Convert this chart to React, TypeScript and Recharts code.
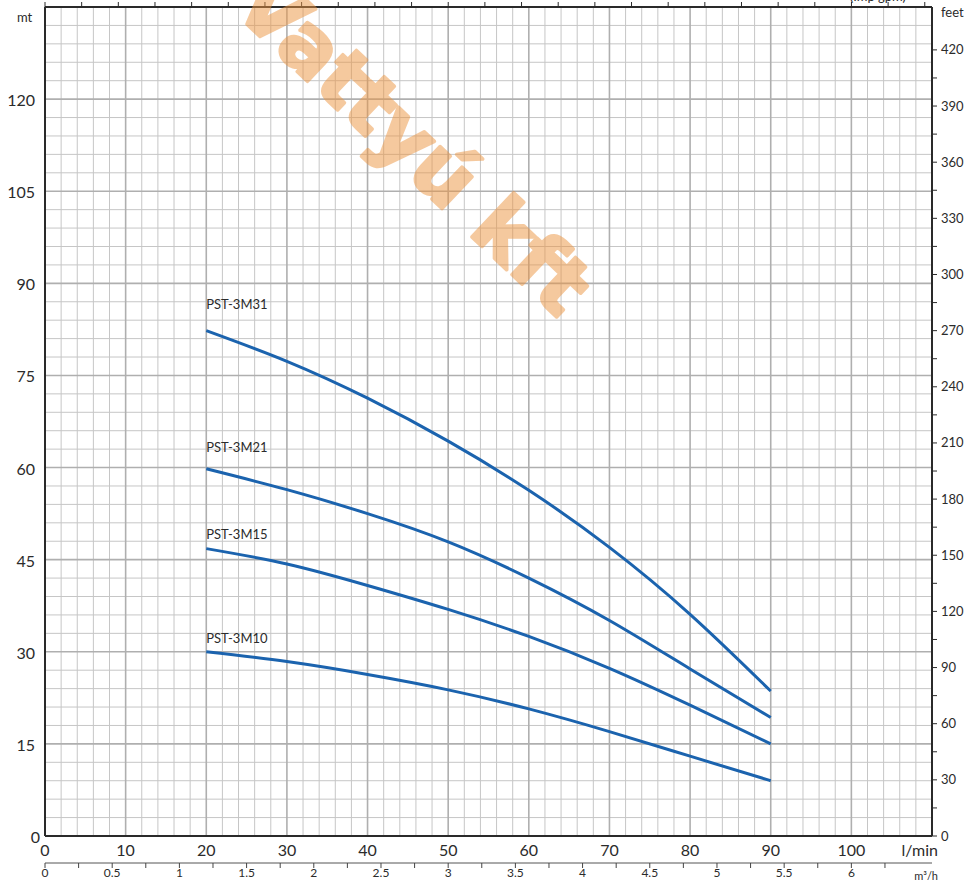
import React from 'react';
import { LineChart, Line, XAxis, YAxis, CartesianGrid, ReferenceDot } from 'recharts';

// ---- data ----
const flowLmin = [20, 30, 40, 50, 60, 70, 80, 90];
const head3M31 = [82.3, 77.3, 71.3, 64.3, 56.3, 47.0, 36.1, 23.6];
const head3M21 = [59.8, 56.4, 52.5, 47.9, 42.0, 35.1, 27.2, 19.3];
const head3M15 = [46.8, 44.3, 40.8, 36.9, 32.5, 27.3, 21.3, 15.0];
const head3M10 = [30.0, 28.4, 26.3, 23.8, 20.7, 17.0, 13.0, 9.0];
const seriesNames = ['PST-3M31', 'PST-3M21', 'PST-3M15', 'PST-3M10'];
const seriesKeys = ['m31', 'm21', 'm15', 'm10'];
const labelAnchorFlow = 20;
const labelAnchorHead = [85.8, 62.6, 48.4, 31.5];

// ---- axes (secondary scales are expressed in the primary units) ----
const FLOW_MAX = 110; // l/min
const HEAD_MAX = 135; // mt
const M_PER_FT = 0.3048;
const LMIN_PER_M3H = 1000 / 60;
const LMIN_PER_GPM = 4.546;

const lminTicks = [0, 10, 20, 30, 40, 50, 60, 70, 80, 90, 100];
const mtTicks = [0, 15, 30, 45, 60, 75, 90, 105, 120];
const feetTicks: number[] = [];
for (let v = 0; v <= 420; v += 15) feetTicks.push(v);
const m3hTicks: number[] = [];
for (let v = 0; v <= 6.25; v += 0.25) m3hTicks.push(Math.round(v * 100) / 100);
const gpmTicks: number[] = [];
for (let v = 0; v <= 24; v += 1) gpmTicks.push(v);

const feetTickPos = feetTicks.map((f) => f * M_PER_FT);
const m3hTickPos = m3hTicks.map((v) => v * LMIN_PER_M3H);
const gpmTickPos = gpmTicks.map((g) => g * LMIN_PER_GPM);

const gridMinorX: number[] = [];
for (let v = 2; v < FLOW_MAX; v += 2) if (v % 10 !== 0) gridMinorX.push(v);
const gridMajorX: number[] = [];
for (let v = 10; v < FLOW_MAX; v += 10) gridMajorX.push(v);
const gridMinorY: number[] = [];
for (let v = 3; v < HEAD_MAX; v += 3) if (v % 15 !== 0) gridMinorY.push(v);
const gridMajorY: number[] = [];
for (let v = 15; v < HEAD_MAX; v += 15) gridMajorY.push(v);

const tableData = flowLmin.map((q, i) => ({
  q,
  m31: head3M31[i],
  m21: head3M21[i],
  m15: head3M15[i],
  m10: head3M10[i],
}));

const FONT = 'Lato, "DejaVu Sans", sans-serif';
const TXT = '#2b2b2b';
const CURVE = '#1b63ae';
const AXIS = '#2a2a2a';

const LeftTick = (p: any) => {
  const v = p.payload.value;
  return (
    <text x={v === 0 ? p.x + 5 : p.x} y={p.y + 7} textAnchor="end" fontSize={16} fill={TXT} fontFamily={FONT}>
      {v}
    </text>
  );
};
const RightTick = (p: any) => {
  const ft = Math.round(p.payload.value / M_PER_FT);
  if (ft % 30 !== 0) return <g />;
  return (
    <text x={p.x} y={p.y + 4.5} textAnchor="start" fontSize={13} fill={TXT} fontFamily={FONT}>
      {ft}
    </text>
  );
};
const BottomTick = (p: any) => (
  <text x={p.x} y={p.y + 12} textAnchor="middle" fontSize={16} fill={TXT} fontFamily={FONT}>
    {p.payload.value}
  </text>
);
const M3hTick = (p: any) => {
  const v = Math.round((p.payload.value / LMIN_PER_M3H) * 4) / 4;
  if (Math.abs(v * 2 - Math.round(v * 2)) > 1e-6) return <g />;
  return (
    <text x={p.x} y={p.y + 8.5} textAnchor="middle" fontSize={12} fill={TXT} fontFamily={FONT}>
      {v}
    </text>
  );
};
const EmptyTick = () => <g />;

export default function App() {
  return (
    <div style={{ position: 'absolute', left: 0, top: 0, width: 977, height: 881, background: '#fff', fontFamily: FONT }}>
      <LineChart width={977} height={881} data={tableData} margin={{ top: 0, right: 0, bottom: 0, left: 0 }}>
        <CartesianGrid
          xAxisId="lmin"
          yAxisId="mt"
          verticalValues={gridMinorX}
          horizontalValues={gridMinorY}
          syncWithTicks
          stroke="#c6c6c6"
          strokeWidth={1}
        />
        <CartesianGrid
          xAxisId="lmin"
          yAxisId="mt"
          verticalValues={gridMajorX}
          horizontalValues={gridMajorY}
          syncWithTicks
          stroke="#afafaf"
          strokeWidth={1.6}
        />

        {/* bottom l/min axis */}
        <XAxis
          xAxisId="lmin"
          orientation="bottom"
          type="number"
          dataKey="q"
          domain={[0, FLOW_MAX]}
          allowDataOverflow
          ticks={lminTicks}
          interval={0}
          height={27}
          tickSize={0}
          tickMargin={8}
          tick={BottomTick}
          tickLine={false}
          axisLine={{ stroke: AXIS, strokeWidth: 2 }}
          label={(p: any) => {
            const vb = p.viewBox || {};
            return (
              <text x={(vb.x || 0) + (vb.width || 0) + 6} y={(vb.y || 0) + 20} textAnchor="end" fontSize={16} fill={TXT} fontFamily={FONT}>
                l/min
              </text>
            );
          }}
        />

        {/* bottom m3/h axis (positions in l/min) */}
        <XAxis
          xAxisId="m3h"
          orientation="bottom"
          type="number"
          dataKey="q"
          domain={[0, FLOW_MAX]}
          allowDataOverflow
          ticks={m3hTickPos}
          interval={0}
          height={18}
          tickSize={5}
          tickMargin={0}
          tick={M3hTick}
          tickLine={{ stroke: '#444', strokeWidth: 1 }}
          axisLine={{ stroke: '#555', strokeWidth: 1 }}
          label={(p: any) => {
            const vb = p.viewBox || {};
            return (
              <text x={(vb.x || 0) + (vb.width || 0) + 6} y={(vb.y || 0) + 17} textAnchor="end" fontSize={11} fill={TXT} fontFamily={FONT}>
                m³/h
              </text>
            );
          }}
        />

        {/* top Imp gpm axis (positions in l/min) */}
        <XAxis
          xAxisId="gpm"
          orientation="top"
          type="number"
          dataKey="q"
          domain={[0, FLOW_MAX]}
          allowDataOverflow
          ticks={gpmTickPos}
          interval={0}
          height={7}
          tickSize={5}
          tick={EmptyTick}
          axisLine={{ stroke: AXIS, strokeWidth: 2 }}
          tickLine={{ stroke: AXIS, strokeWidth: 1 }}
          label={() => (
            <text x={906} y={1} textAnchor="end" fontSize={13} fill={TXT} fontFamily={FONT}>
              (Imp gpm)
            </text>
          )}
        />

        {/* left mt axis */}
        <YAxis
          yAxisId="mt"
          orientation="left"
          type="number"
          domain={[0, HEAD_MAX]}
          allowDataOverflow
          ticks={mtTicks}
          interval={0}
          width={45}
          tickSize={0}
          tickMargin={10}
          tick={LeftTick}
          tickLine={false}
          axisLine={{ stroke: AXIS, strokeWidth: 2 }}
          label={(p: any) => {
            const vb = p.viewBox || {};
            return (
              <text x={(vb.x || 0) + 17} y={(vb.y || 0) + 15} fontSize={13} fill={TXT} fontFamily={FONT}>
                mt
              </text>
            );
          }}
        />

        {/* right feet axis (positions in mt) */}
        <YAxis
          yAxisId="feet"
          orientation="right"
          type="number"
          domain={[0, HEAD_MAX]}
          allowDataOverflow
          ticks={feetTickPos}
          interval={0}
          width={45}
          tickSize={5}
          tickMargin={4}
          tick={RightTick}
          tickLine={{ stroke: AXIS, strokeWidth: 1 }}
          axisLine={{ stroke: AXIS, strokeWidth: 2 }}
          label={(p: any) => {
            const vb = p.viewBox || {};
            return (
              <text x={(vb.x || 0) + 9} y={(vb.y || 0) + 10} fontSize={13} fill={TXT} fontFamily={FONT}>
                feet
              </text>
            );
          }}
        />

        {seriesKeys.map((k) => (
          <Line
            key={k}
            xAxisId="lmin"
            yAxisId="mt"
            type="natural"
            dataKey={k}
            stroke={CURVE}
            strokeWidth={3}
            dot={false}
            activeDot={false}
            isAnimationActive={false}
          />
        ))}

        {seriesNames.map((name, i) => (
          <ReferenceDot
            key={name}
            xAxisId="lmin"
            yAxisId="mt"
            x={labelAnchorFlow}
            y={labelAnchorHead[i]}
            r={0}
            fill="none"
            stroke="none"
            label={(p: any) => {
              const vb = p.viewBox || {};
              return (
                <text x={vb.x} y={vb.y} fontSize={13} fill={TXT} fontFamily={FONT}>
                  {name}
                </text>
              );
            }}
          />
        ))}
      </LineChart>

      {/* watermark */}
      <svg width={977} height={881} style={{ position: 'absolute', left: 0, top: 0, pointerEvents: 'none' }}>
        <g opacity={0.5}>
          <text
            x={231}
            y={9}
            transform="rotate(43.4 231 9)"
            fontSize={80}
            fontWeight="bold"
            fontFamily='"DejaVu Sans", sans-serif'
            fill="#ec9440"
            stroke="#ec9440"
            strokeWidth={3.5}
            strokeLinejoin="round"
          >
            Vattyú kft
          </text>
        </g>
      </svg>
    </div>
  );
}
